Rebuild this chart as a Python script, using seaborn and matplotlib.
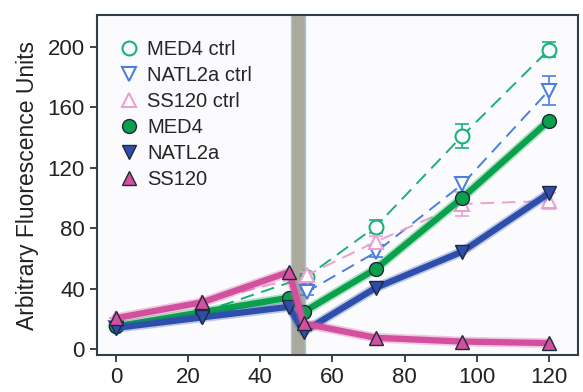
import matplotlib
matplotlib.use("Agg")
import matplotlib.pyplot as plt
from matplotlib.lines import Line2D
import seaborn as sns

# sampling times (h)
t_treat = [0, 24, 48, 52, 72, 96, 120]
t_ctrl = [0, 24, 53, 72, 96, 120]

# treated cultures
med4 = [15, 24.5, 34, 24.5, 53, 100, 151]
natl2a = [14, 21, 28, 11.5, 40.5, 64.5, 103]
ss120 = [20.5, 31, 51, 17, 7.5, 5, 4]

# controls (+ error bars)
med4_ctrl = [15, 24.5, 48, 81, 141, 198]
med4_ctrl_err = [0, 0, 2, 4.5, 8, 5]
natl2a_ctrl = [14, 21, 38, 64, 109, 171]
natl2a_ctrl_err = [0, 0, 2, 3, 5, 9.5]
ss120_ctrl = [20.5, 31, 49, 71, 96, 98]
ss120_ctrl_err = [0, 0, 2, 4, 8, 5.5]

band = (48.6, 52.5)

sns.set_theme(style="ticks")
plt.rcParams['font.family'] = ['Liberation Sans', 'DejaVu Sans']

fig = plt.figure(figsize=(5.83, 3.92), dpi=100)
ax = fig.add_axes([0.166, 0.094, 0.825, 0.868])
ax.set_facecolor('#fbfbfe')

ax.axvspan(*band, facecolor='#aaa99b', edgecolor='#a8c4e0', linewidth=1, zorder=1)

ctrl = [
    ("MED4 ctrl", med4_ctrl, med4_ctrl_err, '#1bb07a', 'o'),
    ("NATL2a ctrl", natl2a_ctrl, natl2a_ctrl_err, '#4a7fdc', 'v'),
    ("SS120 ctrl", ss120_ctrl, ss120_ctrl_err, '#eca0d2', '^'),
]
treat = [
    ("MED4", med4, '#0aa14c', 'o'),
    ("NATL2a", natl2a, '#2e4eab', 'v'),
    ("SS120", ss120, '#d2509e', '^'),
]

handles = []
for name, y, err, col, mk in ctrl:
    ax.errorbar(t_ctrl, y, yerr=err, fmt='none', ecolor=col, elinewidth=1.2,
                capsize=5, capthick=1.2, zorder=3)
    sns.lineplot(x=t_ctrl, y=y, ax=ax, color=col, linestyle=(0, (7, 4)), linewidth=1.4,
                 marker=mk, markersize=10, mfc='white', mec=col, mew=1.5, zorder=3)
    handles.append(Line2D([], [], linestyle='none', marker=mk, markersize=10,
                          mfc='white', mec=col, mew=1.5, label=name))

for name, y, col, mk in treat:
    # soft halo under the thick line
    sns.lineplot(x=t_treat, y=y, ax=ax, color=col, linewidth=7, alpha=0.3, zorder=4)
    sns.lineplot(x=t_treat, y=y, ax=ax, color=col, linewidth=4.5,
                 marker=mk, markersize=10, mfc=col, mec='#1e2a3a', mew=1.0, zorder=4)
    handles.append(Line2D([], [], linestyle='none', marker=mk, markersize=10,
                          mfc=col, mec='#1e2a3a', mew=1.0, label=name))

ax.set_xlim(-5.3, 128)
ax.set_ylim(-4, 221)
ax.set_xticks(range(0, 121, 20))
ax.set_yticks(range(0, 201, 40))
ax.tick_params(labelsize=16, length=5, width=1.2, colors='#222222', direction='out')
ax.set_ylabel('Arbitrary Fluorescence Units', fontsize=16.5, color='#222222', labelpad=6)
ax.set_xlabel('')
for s in ax.spines.values():
    s.set_visible(True)
    s.set_linewidth(1.5)
    s.set_color('#333d45')

ax.legend(handles=handles, loc='upper left', bbox_to_anchor=(0.0, 0.985), frameon=False,
          fontsize=14.5, handletextpad=0.3, labelspacing=0.35, borderaxespad=0.6,
          handlelength=1.2)

fig.savefig('out.png', dpi=100)
